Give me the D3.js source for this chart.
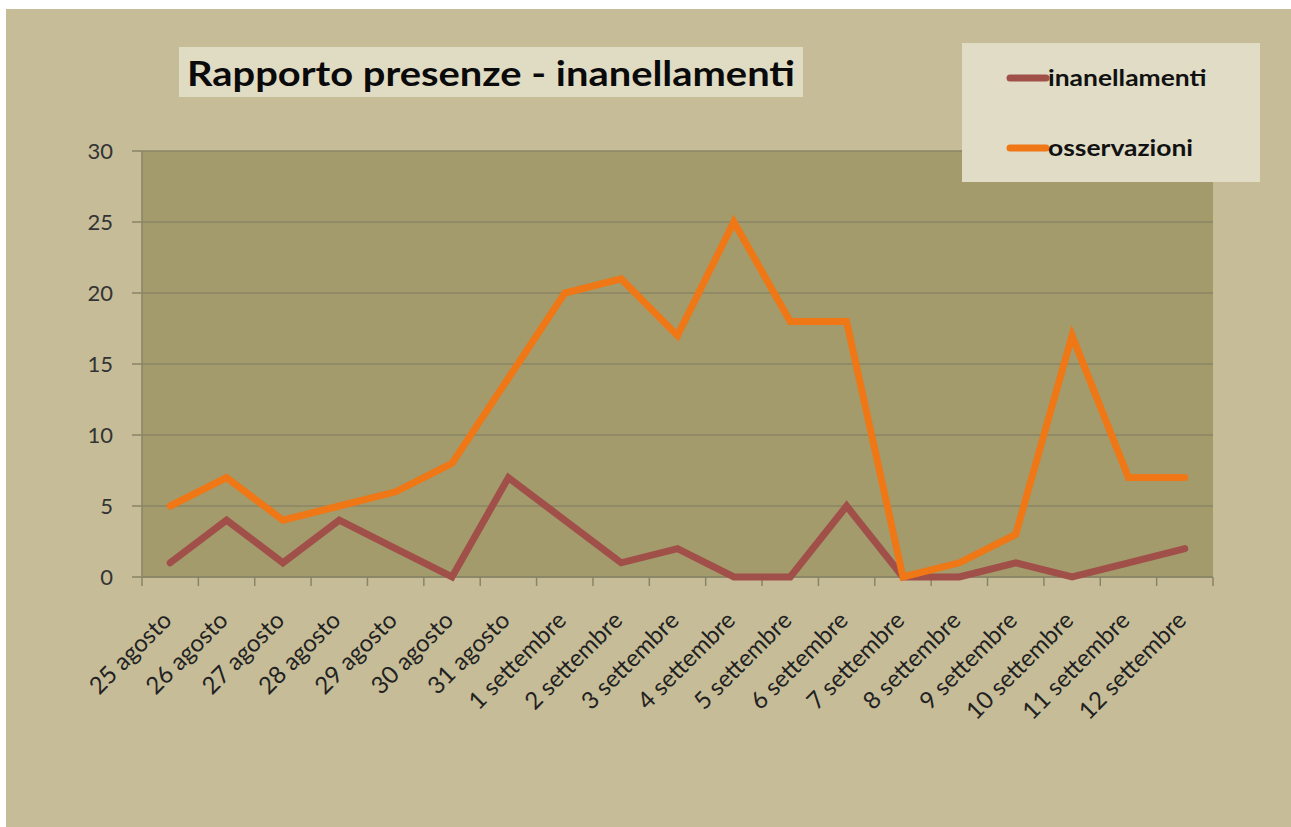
<!DOCTYPE html>
<html>
<head>
<meta charset="utf-8">
<script src="https://cdn.jsdelivr.net/npm/d3@7"></script>
<style>
  html, body { margin: 0; padding: 0; background: #ffffff; }
  svg { display: block; }
</style>
</head>
<body>
<svg width="1291" height="827"></svg>
<script>
const categories = [
    "25 agosto", "26 agosto", "27 agosto", "28 agosto", "29 agosto", "30 agosto", "31 agosto",
    "1 settembre", "2 settembre", "3 settembre", "4 settembre", "5 settembre", "6 settembre",
    "7 settembre", "8 settembre", "9 settembre", "10 settembre", "11 settembre", "12 settembre"
];
const inanellamenti = [1, 4, 1, 4, 2, 0, 7, 4, 1, 2, 0, 0, 5, 0, 0, 1, 0, 1, 2];
const osservazioni = [5, 7, 4, 5, 6, 8, 14, 20, 21, 17, 25, 18, 18, 0, 1, 3, 17, 7, 7];
const yTicks = [0, 5, 10, 15, 20, 25, 30];

const series = [
    { name: "inanellamenti", values: inanellamenti, color: "#a14f49" },
    { name: "osservazioni", values: osservazioni, color: "#ef7716" }
];

const svg = d3.select("svg");
const font = "Lato, 'Open Sans', sans-serif";

// background
svg.append("rect")
    .attr("x", 6).attr("y", 9)
    .attr("width", 1285).attr("height", 818)
    .attr("fill", "#c6bd98");

const plot = { left: 142, top: 151, right: 1213, bottom: 577 };

const x = d3.scaleBand()
    .domain(categories)
    .range([plot.left, plot.right]);

const y = d3.scaleLinear()
    .domain([0, 30])
    .range([plot.bottom, plot.top]);

// plot area
svg.append("rect")
    .attr("x", plot.left).attr("y", plot.top)
    .attr("width", plot.right - plot.left)
    .attr("height", plot.bottom - plot.top)
    .attr("fill", "#a39b6b");

// gridlines + y ticks
svg.append("g")
    .selectAll("line")
    .data(yTicks)
    .enter()
    .append("line")
    .attr("x1", plot.left - 10)
    .attr("x2", plot.right)
    .attr("y1", d => y(d))
    .attr("y2", d => y(d))
    .attr("stroke", "#8a8466")
    .attr("stroke-width", 1.5);

svg.append("g")
    .selectAll("text")
    .data(yTicks)
    .enter()
    .append("text")
    .attr("x", 113)
    .attr("y", d => y(d))
    .attr("dy", "0.35em")
    .attr("text-anchor", "end")
    .attr("fill", "#333")
    .style("font-family", font)
    .style("font-size", "22px")
    .text(d => d);

// axes lines
svg.append("line")
    .attr("x1", plot.left).attr("x2", plot.left)
    .attr("y1", plot.top).attr("y2", plot.bottom)
    .attr("stroke", "#8a8466").attr("stroke-width", 1.5);

svg.append("line")
    .attr("x1", plot.left).attr("x2", plot.right)
    .attr("y1", plot.bottom).attr("y2", plot.bottom)
    .attr("stroke", "#8a8466").attr("stroke-width", 1.5);

// x tick marks at band boundaries
const boundaries = categories.map(c => x(c)).concat([plot.right]);
svg.append("g")
    .selectAll("line")
    .data(boundaries)
    .enter()
    .append("line")
    .attr("x1", d => d).attr("x2", d => d)
    .attr("y1", plot.bottom).attr("y2", plot.bottom + 9)
    .attr("stroke", "#8a8466")
    .attr("stroke-width", 1.5);

// x labels
svg.append("g")
    .selectAll("text")
    .data(categories)
    .enter()
    .append("text")
    .attr("transform", d => `translate(${x(d) + x.bandwidth() / 2 - 9}, 610) rotate(-45)`)
    .attr("text-anchor", "end")
    .attr("dy", "0.7em")
    .attr("fill", "#222")
    .style("font-family", font)
    .style("font-size", "24px")
    .text(d => d);

// lines
const line = d3.line()
    .x((d, i) => x(categories[i]) + x.bandwidth() / 2)
    .y(d => y(d));

svg.append("g")
    .selectAll("path")
    .data(series)
    .enter()
    .append("path")
    .attr("d", d => line(d.values))
    .attr("fill", "none")
    .attr("stroke", d => d.color)
    .attr("stroke-width", 7)
    .attr("stroke-linejoin", "miter")
    .attr("stroke-linecap", "round");

// title
svg.append("rect")
    .attr("x", 179).attr("y", 47)
    .attr("width", 624).attr("height", 50)
    .attr("fill", "#e0dcc4");

svg.append("text")
    .attr("x", 187).attr("y", 86)
    .attr("fill", "#0a0a0a")
    .attr("textLength", 608)
    .attr("lengthAdjust", "spacingAndGlyphs")
    .style("font-family", font)
    .style("font-weight", "bold")
    .style("font-size", "35px")
    .text("Rapporto presenze - inanellamenti");

// legend
const legend = svg.append("g");
legend.append("rect")
    .attr("x", 962).attr("y", 43)
    .attr("width", 298).attr("height", 139)
    .attr("fill", "#e0dcc6");

const lg = legend.selectAll(".item")
    .data(series)
    .enter()
    .append("g")
    .attr("transform", (d, i) => `translate(0, ${78 + i * 70})`);

lg.append("line")
    .attr("x1", 1010).attr("x2", 1046)
    .attr("y1", 0).attr("y2", 0)
    .attr("stroke", d => d.color)
    .attr("stroke-width", 7)
    .attr("stroke-linecap", "round");

lg.append("text")
    .attr("transform", "translate(1048, 0) scale(1.15, 1)")
    .attr("dy", "0.35em")
    .attr("fill", "#111")
    .style("font-family", font)
    .style("font-weight", "bold")
    .style("font-size", "23px")
    .text(d => d.name);
</script>
</body>
</html>
